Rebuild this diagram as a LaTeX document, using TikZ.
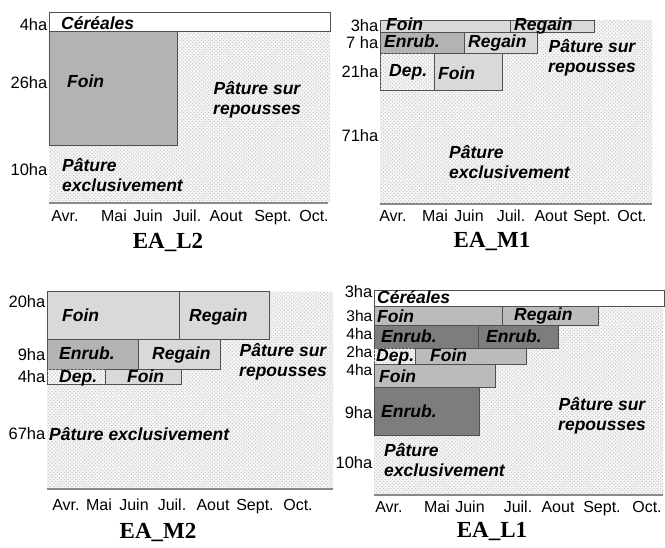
\documentclass[tikz,border=0pt]{standalone}
\usepackage{fontspec}
\setmainfont{Liberation Serif}
\setsansfont{Liberation Sans}
\usetikzlibrary{patterns}

\definecolor{foinclair}{HTML}{D9D9D9}
\definecolor{enrubmoyen}{HTML}{B3B3B3}
\definecolor{foinL}{HTML}{BBBBBB}
\definecolor{enrubfonce}{HTML}{7D7D7D}
\definecolor{trait}{HTML}{505050}
\definecolor{axecol}{HTML}{8A8A8A}

\pgfdeclarepatternformonly{pointille}{\pgfqpoint{-1pt}{-1pt}}{\pgfqpoint{3pt}{3pt}}{\pgfqpoint{3.6pt}{3.6pt}}{
  \pgfpathcircle{\pgfqpoint{0pt}{0pt}}{0.75pt}
  \pgfpathcircle{\pgfqpoint{1.8pt}{1.8pt}}{0.75pt}
  \pgfusepath{fill}}

\tikzset{
  paturefond/.style={fill=gray!6, postaction={pattern=pointille, pattern color=gray!45}},
  case/.style={draw=trait, line width=0.8pt},
  axe/.style={draw=axecol, line width=1.6pt},
  ha/.style={anchor=east, inner xsep=0.5pt, inner ysep=0pt, text height=11.8pt, text depth=0pt, font=\sffamily\fontsize{16.5}{16.5}\selectfont},
  haserre/.style={ha, text height=11pt, font=\sffamily\fontsize{15.5}{15.5}\selectfont},
  bloc/.style={inner sep=0pt, font=\sffamily\bfseries\itshape\fontsize{17.5}{20.5}\selectfont},
  cult/.style={bloc, anchor=west, text height=12.5pt, text depth=3.5pt},
  mois/.style={inner sep=0pt, text height=11.5pt, text depth=3pt, font=\sffamily\fontsize{16}{16}\selectfont},
  titre/.style={inner sep=0pt, font=\rmfamily\bfseries\fontsize{23}{23}\selectfont}
}

\begin{document}
\begin{tikzpicture}[x=1pt, y=-1pt]
\useasboundingbox (0,0) rectangle (665,548);

% EA_L2
\fill[paturefond] (49,31.7) rectangle (330,203);
\draw[case, fill=white] (49,12.3) rectangle (330,31.7);
\draw[case, fill=enrubmoyen] (49,31.7) rectangle (177,145);
\draw[axe] (49,203)--(328,203);
\node[ha] (l2a) at (48,25) {4ha};
\node[ha] (l2b) at (48,83) {26ha};
\node[ha] (l2c) at (48,170) {10ha};
\node[cult] (l2cer) at (61,25) {Céréales};
\node[cult] (l2foin) at (67,83) {Foin};
\node[bloc, align=center] (l2rep) at (257,100) {Pâture sur\\repousses};
\node[bloc, align=left, anchor=west] (l2exc) at (62,175) {Pâture\\exclusivement};
\foreach \m/\x [count=\i] in {Avr./65, Mai/114, Juin/148, Juil./187, Aout/226, Sept./273, Oct./314}
  \node[mois] (l2m\i) at (\x,217) {\m};
\node[titre] (l2) at (168,242) {EA\_L2};

% EA_M1
\fill[paturefond] (380,20) rectangle (652,204);
\draw[case, fill=foinclair] (380,20) rectangle (510,32.3);
\draw[case, fill=foinclair] (510,20) rectangle (594,32.3);
\draw[case, fill=enrubmoyen] (380,32.3) rectangle (464.3,53.3);
\draw[case, fill=foinclair] (464.3,32.3) rectangle (537.3,53.3);
\draw[case, paturefond] (380,53.3) rectangle (434,90);
\draw[case, fill=foinclair] (434,53.3) rectangle (502.7,90);
\draw[axe] (380,204)--(652,204);
\node[ha] (m1a) at (379,26) {3ha};
\node[ha] (m1b) at (379,43) {7 ha};
\node[ha] (m1c) at (379,72) {21ha};
\node[ha] (m1d) at (379,136) {71ha};
\node[cult] (m1foin) at (386,26) {Foin};
\node[cult] (m1reg) at (514,26) {Regain};
\node[cult] (m1enr) at (384,43) {Enrub.};
\node[cult] (m1regb) at (468,43) {Regain};
\node[cult] (m1dep) at (389,72) {Dep.};
\node[cult] (m1foinb) at (438,75) {Foin};
\node[bloc, align=center] (m1rep) at (592,58) {Pâture sur\\repousses};
\node[bloc, align=left, anchor=west] (m1exc) at (449,162) {Pâture\\exclusivement};
\foreach \m/\x [count=\i] in {Avr./393, Mai/435, Juin/469, Juil./511, Aout/551, Sept./592, Oct./632}
  \node[mois] (m1m\i) at (\x,217) {\m};
\node[titre] (m1) at (492,242) {EA\_M1};

% EA_M2
\fill[paturefond] (47,291.7) rectangle (333,489);
\draw[case, fill=foinclair] (47,291.7) rectangle (179.3,339);
\draw[case, fill=foinclair] (179.3,291.7) rectangle (269,339);
\draw[case, fill=enrubmoyen] (47,339) rectangle (138.3,369.3);
\draw[case, fill=foinclair] (138.3,339) rectangle (220,369.3);
\draw[case, paturefond] (47,369.3) rectangle (105,384);
\draw[case, fill=foinclair] (105,369.3) rectangle (181.7,384);
\draw[axe] (47,489)--(333,489);
\node[ha] (m2a) at (46,302) {20ha};
\node[ha] (m2b) at (46,355) {9ha};
\node[ha] (m2c) at (46,377) {4ha};
\node[ha] (m2d) at (46,434) {67ha};
\node[cult] (m2foin) at (62,317) {Foin};
\node[cult] (m2reg) at (189,317) {Regain};
\node[cult] (m2enr) at (59,355) {Enrub.};
\node[cult] (m2regb) at (152,355) {Regain};
\node[cult] (m2dep) at (59,378) {Dep.};
\node[cult] (m2foinb) at (127,378) {Foin};
\node[bloc, align=center] (m2rep) at (283,362) {Pâture sur\\repousses};
\node[cult] (m2exc) at (49,436) {Pâture exclusivement};
\foreach \m/\x [count=\i] in {Avr./66, Mai/99, Juin/134, Juil./172, Aout/213, Sept./255, Oct./298}
  \node[mois] (m2m\i) at (\x,506) {\m};
\node[titre] (m2) at (158,532) {EA\_M2};

% EA_L1
\fill[paturefond] (374,306) rectangle (663,495);
\draw[case, fill=white] (374,290.7) rectangle (664,306);
\draw[case, fill=foinL] (374,306) rectangle (502.7,325.7);
\draw[case, fill=foinL] (502.7,306) rectangle (598.3,325.7);
\draw[case, fill=enrubfonce] (374,325.7) rectangle (478.3,348.3);
\draw[case, fill=enrubfonce] (478.3,325.7) rectangle (558.3,348.3);
\draw[case, paturefond] (374,348.3) rectangle (415,364.3);
\draw[case, fill=foinL] (415,348.3) rectangle (526.7,364.3);
\draw[case, fill=foinL] (374,364.3) rectangle (495,387.3);
\draw[case, fill=enrubfonce] (374,387.3) rectangle (479,435);
\draw[axe] (374,495)--(663,495);
\node[ha] (l1a) at (373,292) {3ha};
\node[haserre] (l1b) at (373,316) {3ha};
\node[haserre] (l1c) at (373,334) {4ha};
\node[haserre] (l1d) at (373,352) {2ha};
\node[haserre] (l1e) at (373,370) {4ha};
\node[ha] (l1f) at (373,413) {9ha};
\node[ha] (l1g) at (373,463) {10ha};
\node[cult] (l1cer) at (377,299) {Céréales};
\node[cult] (l1foin) at (377,318) {Foin};
\node[cult] (l1reg) at (514,316) {Regain};
\node[cult] (l1enr) at (381,338) {Enrub.};
\node[cult] (l1enrb) at (486,338) {Enrub.};
\node[cult] (l1dep) at (376,357) {Dep.};
\node[cult] (l1foinb) at (430,357) {Foin};
\node[cult] (l1foinc) at (379,378) {Foin};
\node[cult] (l1enrc) at (381,413) {Enrub.};
\node[bloc, align=center] (l1rep) at (602,416) {Pâture sur\\repousses};
\node[bloc, align=left, anchor=west] (l1exc) at (384,460) {Pâture\\exclusivement};
\foreach \m/\x [count=\i] in {Avr./389, Mai/437, Juin/470, Juil./518, Aout/558, Sept./602, Oct./647}
  \node[mois] (l1m\i) at (\x,508) {\m};
\node[titre] (l1) at (492,532) {EA\_L1};

\end{tikzpicture}
\end{document}
